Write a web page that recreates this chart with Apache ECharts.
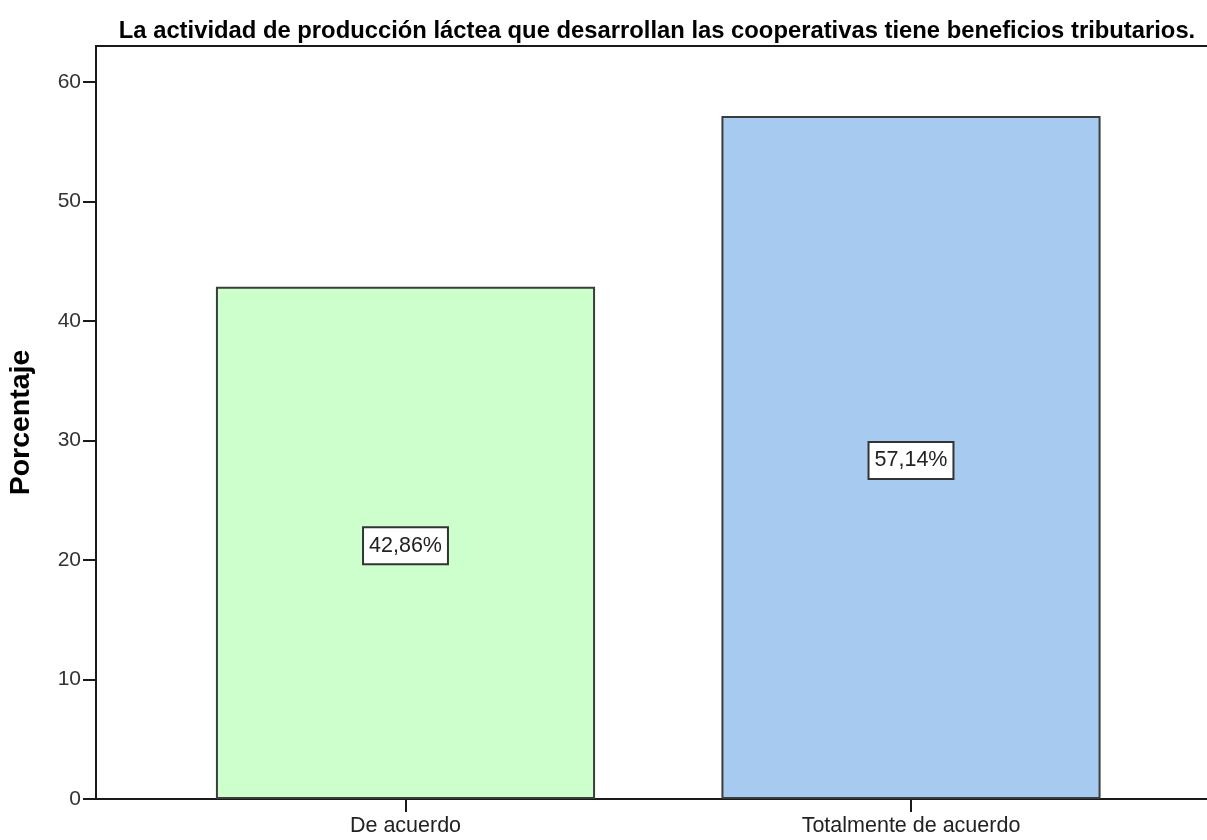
<!DOCTYPE html>
<html>
<head>
<meta charset="utf-8">
<script src="https://cdn.jsdelivr.net/npm/echarts@6/dist/echarts.min.js"></script>
<style>
  html, body { margin: 0; padding: 0; background: #ffffff; }
  #chart { width: 1207px; height: 840px; }
</style>
</head>
<body>
<div id="chart"></div>
<script>
const titleText = 'La actividad de producción láctea que desarrollan las cooperativas tiene beneficios tributarios.';
const categories = ['De acuerdo', 'Totalmente de acuerdo'];
const percentages = [42.86, 57.14];
const barColors = ['#ccffcc', '#a6caf0'];
const yTicks = [0, 10, 20, 30, 40, 50, 60];
const yAxisName = 'Porcentaje';

const FONT = '"Liberation Sans", Arial, sans-serif';
const chart = echarts.init(document.getElementById('chart'), null, { renderer: 'canvas' });

const option = {
  backgroundColor: '#ffffff',
  animation: false,
  title: {
    text: titleText,
    left: 652,
    top: 14,
    textAlign: 'center',
    textStyle: { fontFamily: FONT, fontWeight: 'bold', fontSize: 23.8, color: '#000' }
  },
  grid: [
    { left: 96, right: -5, top: 46, bottom: 41, show: true, borderColor: '#1a1a1a', borderWidth: 2,
      backgroundColor: 'transparent', containLabel: false, outerBoundsMode: 'none' },
    { left: 152.75, right: 43.25, top: 46, bottom: 41, containLabel: false, outerBoundsMode: 'none' }
  ],
  xAxis: [
    { gridIndex: 0, type: 'value', min: 0, max: 1, show: true,
      axisLine: { show: true, lineStyle: { color: '#1a1a1a', width: 2 } },
      axisTick: { show: false }, axisLabel: { show: false }, splitLine: { show: false } },
    { gridIndex: 1, type: 'category', data: categories,
      axisLine: { show: false },
      axisTick: { show: true, alignWithLabel: true, length: 13, lineStyle: { color: '#1a1a1a', width: 2 } },
      axisLabel: { fontFamily: FONT, fontSize: 21.5, color: '#222', margin: 16 } }
  ],
  yAxis: [
    { gridIndex: 0, type: 'value', min: 0, max: 63, interval: 10,
      name: yAxisName, nameLocation: 'middle', nameGap: 60, nameRotate: 90,
      nameTextStyle: { fontFamily: FONT, fontWeight: 'bold', fontSize: 28.5, color: '#000' },
      axisLine: { show: true, lineStyle: { color: '#1a1a1a', width: 2 } },
      axisTick: { show: true, length: 13, customValues: yTicks, lineStyle: { color: '#1a1a1a', width: 2 } },
      axisLabel: { fontFamily: FONT, fontSize: 21, color: '#333', margin: 15, customValues: yTicks,
        formatter: v => (v % 10 === 0 ? String(v) : '') },
      splitLine: { show: false } },
    { gridIndex: 1, type: 'value', min: 0, max: 63, show: false }
  ],
  series: [{
    type: 'bar',
    xAxisIndex: 1, yAxisIndex: 1,
    barWidth: '75%',
    data: percentages.map((v, i) => ({ value: v, itemStyle: { color: barColors[i] } })),
    itemStyle: { borderColor: '#3c3c3c', borderWidth: 2 },
    label: {
      show: true, position: 'inside', offset: [0, 3],
      formatter: p => p.value.toFixed(2).replace('.', ',') + '%',
      fontFamily: FONT, fontSize: 21.5, color: '#222',
      backgroundColor: '#ffffff', borderColor: '#333', borderWidth: 2,
      padding: [7, 5, 6, 5]
    }
  }]
};
chart.setOption(option);
</script>
</body>
</html>
